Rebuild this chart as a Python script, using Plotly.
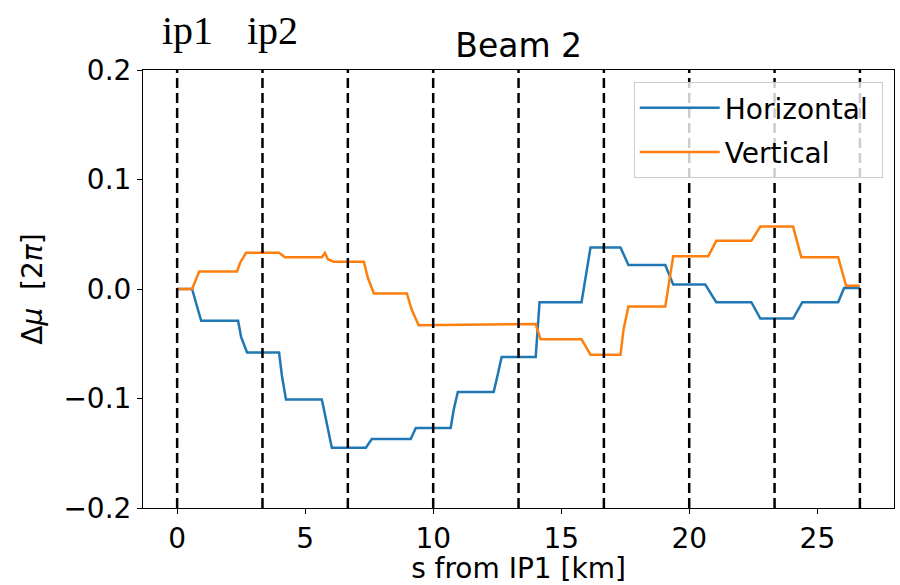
import plotly.graph_objects as go

# Horizontal phase-advance difference (breakpoints)
s_h = [0.0, 0.585, 0.74, 0.94, 2.38, 2.50, 2.73, 3.98, 4.09, 4.25, 5.65, 5.85, 6.04,
       7.37, 7.60, 9.12, 9.32, 10.68, 10.80, 10.96, 12.36, 12.51, 12.67, 14.00, 14.15,
       15.79, 15.95, 16.14, 17.31, 17.62, 19.06, 19.37, 20.62, 21.05, 22.42, 22.77,
       24.05, 24.41, 25.81, 26.04, 26.66]
mu_h = [0.0, 0.0, -0.013, -0.029, -0.029, -0.044, -0.058, -0.058, -0.079, -0.101,
        -0.101, -0.122, -0.145, -0.145, -0.137, -0.137, -0.127, -0.127, -0.110, -0.094,
        -0.094, -0.079, -0.062, -0.062, -0.012, -0.012, 0.011, 0.038, 0.038, 0.022,
        0.022, 0.004, 0.004, -0.012, -0.012, -0.027, -0.027, -0.012, -0.012, 0.001, 0.001]

# Vertical phase-advance difference
s_v = [0.0, 0.585, 0.86, 2.34, 2.46, 2.69, 3.98, 4.21, 5.65, 5.77, 5.89, 6.12, 7.29,
       7.45, 7.68, 8.97, 9.16, 9.43, 14.00, 14.19, 15.79, 16.14, 17.31, 17.43, 17.62,
       19.06, 19.37, 20.74, 21.05, 22.42, 22.77, 24.05, 24.37, 25.81, 26.12, 26.66]
mu_v = [0.0, 0.0, 0.016, 0.016, 0.024, 0.033, 0.033, 0.029, 0.029, 0.033, 0.027, 0.025,
        0.025, 0.010, -0.004, -0.004, -0.019, -0.033, -0.032, -0.046, -0.046, -0.060,
        -0.060, -0.037, -0.016, -0.016, 0.030, 0.030, 0.044, 0.044, 0.057, 0.057, 0.029,
        0.029, 0.003, 0.003]

ip_positions = [0.0, 3.332, 6.665, 9.997, 13.33, 16.662, 19.994, 23.327, 26.659]
ip_labels = ["ip1", "ip2"]

x_ticks = [0, 5, 10, 15, 20, 25]
y_ticks = [-0.2, -0.1, 0.0, 0.1, 0.2]

FONT = "DejaVu Sans"

fig = go.Figure()
fig.add_trace(go.Scatter(x=s_h, y=mu_h, mode="lines", name="Horizontal\u00a0",
                         legendgroup="h", line=dict(color="#1f77b4", width=2.5)))
fig.add_trace(go.Scatter(x=s_v, y=mu_v, mode="lines", name="Vertical",
                         legendgroup="v", line=dict(color="#ff7f0e", width=2.5)))

for xp in ip_positions:
    fig.add_shape(type="line", x0=xp, x1=xp, y0=0, y1=1, xref="x", yref="paper",
                  line=dict(color="black", width=2.5, dash="10px,5px"), layer="above")

for xp, lab in zip(ip_positions, ip_labels):
    fig.add_annotation(x=xp, y=1.09, xref="x", yref="paper", text=lab, showarrow=False,
                       xanchor="center", yanchor="middle", xshift=10,
                       font=dict(family="Liberation Serif", size=40, color="black"))

fig.update_layout(
    width=900, height=585,
    margin=dict(l=143, r=6, t=70, b=77),
    paper_bgcolor="white", plot_bgcolor="white",
    font=dict(family=FONT, size=28, color="black"),
    title=dict(text="Beam 2", x=0.5763, xref="container", xanchor="center",
               y=1 - 45 / 585, yref="container", yanchor="middle",
               font=dict(family=FONT, size=33, color="black")),
    showlegend=True,
    legend=dict(x=0.985, y=0.9726, xanchor="right", yanchor="top",
                bgcolor="rgba(255,255,255,0.8)", bordercolor="#cccccc", borderwidth=1,
                font=dict(family=FONT, size=28, color="black"),
                itemwidth=80, tracegroupgap=5),
)

fig.update_xaxes(range=[-1.333, 27.99], tickvals=x_ticks, ticks="outside", ticklen=5,
                 tickwidth=1, tickcolor="black", showline=True, linecolor="black",
                 linewidth=1, mirror=True, showgrid=False, zeroline=False,
                 title=dict(text="s from IP1 [km]", standoff=2,
                            font=dict(family=FONT, size=28)),
                 tickfont=dict(family=FONT, size=28))
fig.update_yaxes(range=[-0.2, 0.2], tickvals=y_ticks, tickformat=".1f", ticks="outside",
                 ticklen=5, tickwidth=1, tickcolor="black", showline=True,
                 linecolor="black", linewidth=1, mirror=True, showgrid=False,
                 zeroline=False,
                 title=dict(text="Δ<i>μ</i>\u00a0\u00a0[2<i>π</i>]", standoff=12,
                            font=dict(family=FONT, size=28)),
                 tickfont=dict(family=FONT, size=28))

fig.write_html("out.html")
